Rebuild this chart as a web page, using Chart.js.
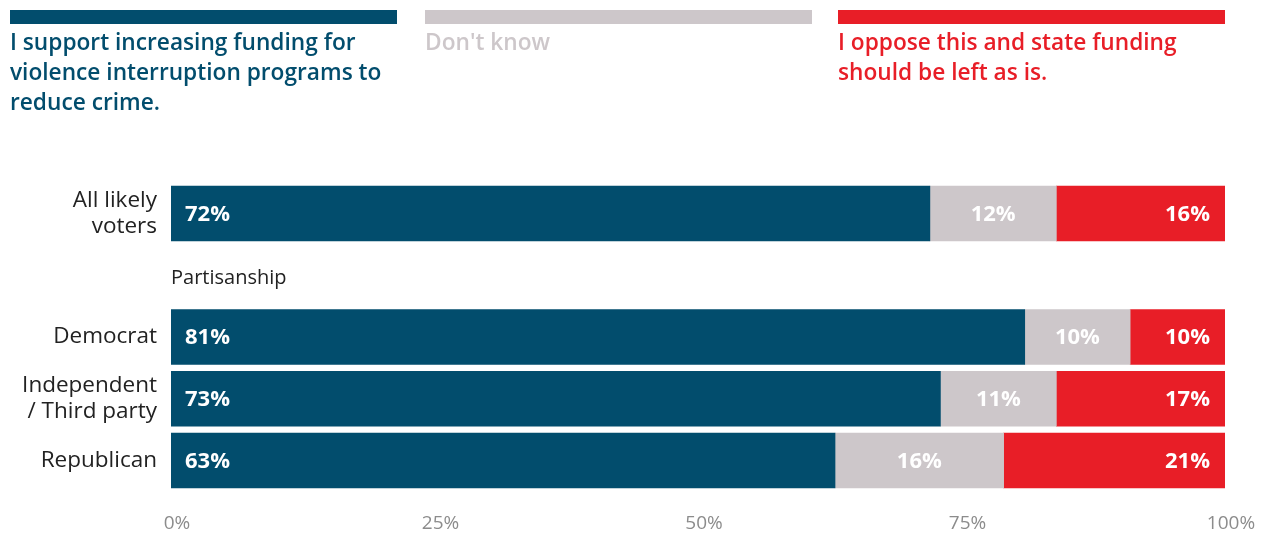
<!DOCTYPE html>
<html>
<head>
<meta charset="utf-8">
<script src="https://cdn.jsdelivr.net/npm/chart.js@4"></script>
<style>
  html, body { margin: 0; padding: 0; background: #fff; }
  body { width: 1261px; height: 533px; position: relative; overflow: hidden; font-family: "Open Sans", Lato, sans-serif; }
  #wrap { position: absolute; left: 0; top: 0; width: 1261px; height: 533px; }
  .key { position: absolute; top: 9.5px; width: 387px; }
  .key .swatch { height: 14px; width: 100%; }
  .key .text { margin-top: 3px; font-weight: 600; font-size: 22.7px; line-height: 30px; white-space: nowrap; }
</style>
</head>
<body>
<div id="wrap"><canvas id="chart" width="1261" height="533"></canvas></div>
<div id="legend"></div>
<script>
// Response groups and shares (percent of respondents)
const categories = [["All likely", "voters"], "", "Democrat", ["Independent", "/ Third party"], "Republican"];
const supportValues  = [72, null, 81, 73, 63];
const dontKnowValues = [12, null, 10, 11, 16];
const opposeValues   = [16, null, 10, 17, 21];
const tickValues = [0, 25, 50, 75, 100];
const groupHeading = "Partisanship";

const seriesNames = ["I support increasing funding for violence interruption programs to reduce crime.", "Don't know", "I oppose this and state funding should be left as is."];
const legendLines = [
  ["I support increasing funding for", "violence interruption programs to", "reduce crime."],
  ["Don't know"],
  ["I oppose this and state funding", "should be left as is."]
];
const colors = ["#024d6d", "#cdc7ca", "#e81e27"];
const legendLeft = [10, 425, 838];

// Legend blocks across the top
const legend = document.getElementById('legend');
legendLines.forEach((lines, i) => {
  const d = document.createElement('div');
  d.className = 'key';
  d.style.left = legendLeft[i] + 'px';
  const sw = document.createElement('div');
  sw.className = 'swatch';
  sw.style.background = colors[i];
  const t = document.createElement('div');
  t.className = 'text';
  t.style.color = colors[i];
  t.innerHTML = lines.map(s => s.replace(/&/g, '&amp;')).join('<br>');
  d.appendChild(sw);
  d.appendChild(t);
  legend.appendChild(d);
});

const FONT = '"Open Sans", Lato, sans-serif';

// Value labels inside each segment: first left, middle centred, last right
const valueLabels = {
  id: 'valueLabels',
  afterDatasetsDraw(chart) {
    const ctx = chart.ctx;
    const area = chart.chartArea;
    ctx.save();
    ctx.font = '700 22px ' + FONT;
    ctx.fillStyle = '#ffffff';
    ctx.textBaseline = 'middle';
    chart.data.datasets.forEach((ds, di) => {
      const meta = chart.getDatasetMeta(di);
      meta.data.forEach((bar, i) => {
        const v = ds.data[i];
        if (v == null) return;
        const start = Math.min(bar.base, bar.x);
        const end = Math.min(Math.max(bar.base, bar.x), area.right);
        const txt = v + '%';
        if (di === 0) { ctx.textAlign = 'left'; ctx.fillText(txt, start + 14, bar.y + 1); }
        else if (di === 1) { ctx.textAlign = 'center'; ctx.fillText(txt, (start + end) / 2, bar.y + 1); }
        else { ctx.textAlign = 'right'; ctx.fillText(txt, end - 15, bar.y + 1); }
      });
    });
    ctx.restore();
  }
};

// Subgroup heading placed on the empty row
const headingRow = {
  id: 'headingRow',
  afterDraw(chart) {
    const ctx = chart.ctx;
    const y = chart.scales.y.getPixelForValue(1);
    ctx.save();
    ctx.font = '400 20px ' + FONT;
    ctx.fillStyle = '#222222';
    ctx.textAlign = 'left';
    ctx.textBaseline = 'middle';
    ctx.fillText(groupHeading, chart.chartArea.left, y + 3);
    ctx.restore();
  }
};

new Chart(document.getElementById('chart'), {
  type: 'bar',
  data: {
    labels: categories,
    datasets: [
      { label: seriesNames[0], data: supportValues, backgroundColor: colors[0] },
      { label: seriesNames[1], data: dontKnowValues, backgroundColor: colors[1] },
      { label: seriesNames[2], data: opposeValues, backgroundColor: colors[2] }
    ]
  },
  options: {
    indexAxis: 'y',
    responsive: false,
    animation: false,
    events: [],
    barThickness: 55,
    layout: { padding: { top: 182.6, right: 36, left: 0, bottom: 0 } },
    plugins: { legend: { display: false }, tooltip: { enabled: false } },
    scales: {
      x: {
        stacked: true,
        min: 0, max: 100,
        afterBuildTicks(scale) { scale.ticks = tickValues.map(v => ({ value: v })); },
        afterFit(scale) {
          scale.height = 533 - 491.4;
          scale.paddingLeft = 0;
          scale.paddingRight = 0;
        },
        grid: { display: false, drawTicks: false },
        border: { display: false },
        ticks: {
          padding: 21,
          labelOffset: 6,
          color: '#8c8c8c',
          font: { family: FONT, size: 19 },
          callback: v => v + '%'
        }
      },
      y: {
        stacked: true,
        afterFit(scale) { scale.width = 171; },
        grid: { display: false, drawTicks: false },
        border: { display: false },
        ticks: {
          padding: 14,
          color: '#222222',
          font: { family: FONT, size: 22.5, lineHeight: 1.18 }
        }
      }
    }
  },
  plugins: [valueLabels, headingRow]
});
</script>
</body>
</html>
